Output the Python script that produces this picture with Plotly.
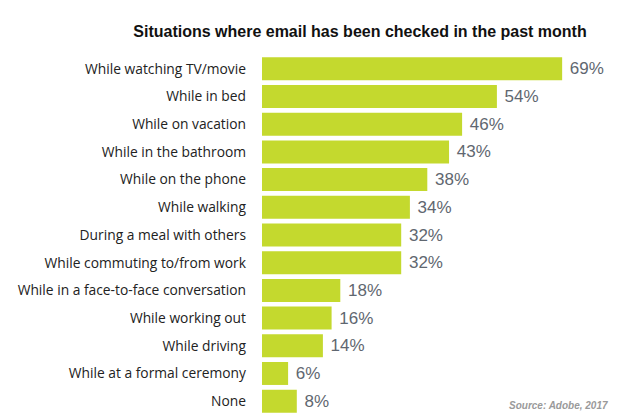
import plotly.graph_objects as go

categories = [
    "While watching TV/movie",
    "While in bed",
    "While on vacation",
    "While in the bathroom",
    "While on the phone",
    "While walking",
    "During a meal with others",
    "While commuting to/from work",
    "While in a face-to-face conversation",
    "While working out",
    "While driving",
    "While at a formal ceremony",
    "None",
]
values = [69, 54, 46, 43, 38, 34, 32, 32, 18, 16, 14, 6, 8]
value_labels = [f"\u00a0{v}%" for v in values]

title_text = "Situations where email has been checked in the past month"
source_text = "Source: Adobe, 2017"

fig = go.Figure()

fig.add_trace(go.Bar(
    x=values,
    y=categories,
    orientation="h",
    marker=dict(color="#c4d92e", line=dict(width=0)),
    text=value_labels,
    textposition="outside",
    cliponaxis=False,
    textfont=dict(family="Liberation Sans, Arial", size=17, color="#5f6770"),
    hoverinfo="skip",
))

fig.update_layout(
    width=630,
    height=420,
    margin=dict(l=262, r=30, t=55, b=5, autoexpand=False),
    paper_bgcolor="white",
    plot_bgcolor="white",
    showlegend=False,
    bargap=0.17,
    title=dict(
        text=f"<b>{title_text}</b>",
        x=360 / 630,
        xanchor="center",
        y=1 - 31 / 420,
        yanchor="middle",
        font=dict(family="Liberation Sans, Arial", size=16, color="#111111"),
    ),
    xaxis=dict(
        range=[0, 77.7],
        visible=False,
        automargin=False,
    ),
    yaxis=dict(
        autorange="reversed",
        automargin=False,
        showgrid=False,
        zeroline=False,
        showline=False,
        ticks="",
        ticklabelstandoff=15,
        tickfont=dict(family="Open Sans", size=13.8, color="#222222"),
    ),
)

fig.add_annotation(
    text=f"<b><i>{source_text}</i></b>",
    xref="paper", yref="paper",
    x=(610 - 262) / 338, y=10 / 360,
    xanchor="right", yanchor="middle",
    showarrow=False,
    font=dict(family="Liberation Sans, Arial", size=10, color="#9a9a9a"),
)

# the browser's default body margin would shift the chart by 8px
fig.write_html(
    "out.html",
    config={"displayModeBar": False},
    post_script="document.body.style.margin = '0';",
)
